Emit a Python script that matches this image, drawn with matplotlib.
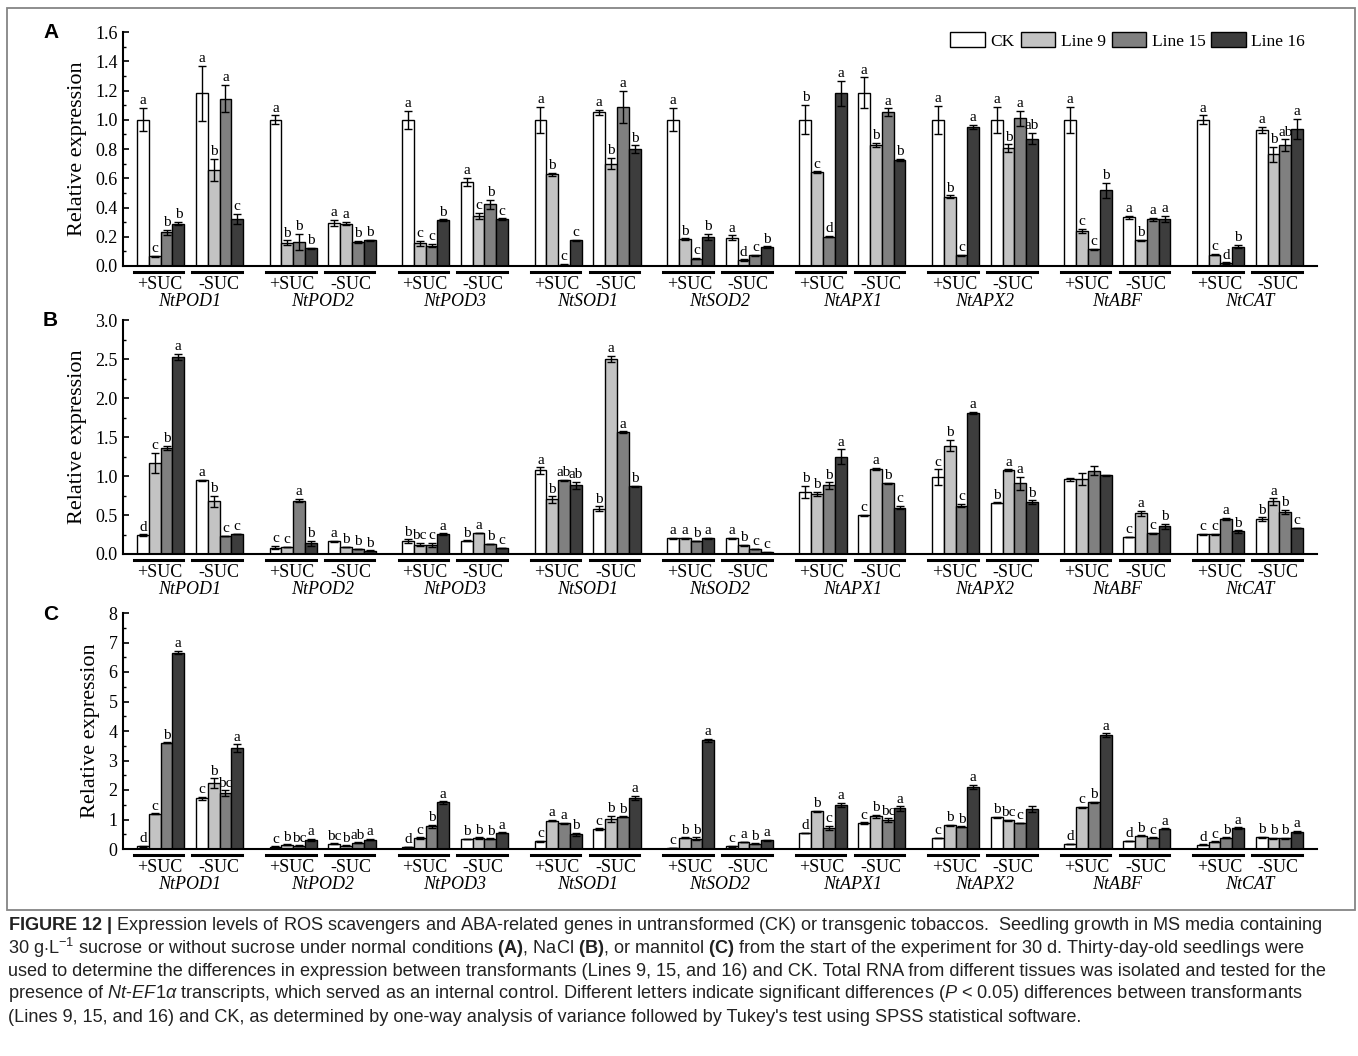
import numpy as np
import matplotlib
matplotlib.use('Agg')
import matplotlib.pyplot as plt
from matplotlib.patches import Patch, Rectangle
from matplotlib.transforms import blended_transform_factory, ScaledTranslation
from matplotlib.ticker import MultipleLocator, FormatStrFormatter

plt.rcParams['font.family'] = 'Liberation Serif'
plt.rcParams['mathtext.fontset'] = 'custom'
plt.rcParams['mathtext.rm'] = 'Liberation Sans'
plt.rcParams['mathtext.it'] = 'Liberation Sans:italic'
plt.rcParams['mathtext.bf'] = 'Liberation Sans:bold'

# гены и условия
genes = ['NtPOD1', 'NtPOD2', 'NtPOD3', 'NtSOD1', 'NtSOD2', 'NtAPX1', 'NtAPX2', 'NtABF', 'NtCAT']
conds = ['+SUC', '-SUC']
lines = ['CK', 'Line 9', 'Line 15', 'Line 16']
colors = ['white', '#c3c3c3', '#808080', '#3d3d3d']

# Панель A: строки = ген x условие, столбцы = CK, Line 9, Line 15, Line 16
a_mean = [[1.00, 0.066, 0.23, 0.29], [1.18, 0.656, 1.145, 0.32],
          [1.00, 0.16, 0.165, 0.12], [0.295, 0.29, 0.165, 0.175],
          [1.00, 0.155, 0.14, 0.315], [0.574, 0.343, 0.423, 0.32],
          [1.00, 0.628, 0.01, 0.176], [1.05, 0.70, 1.09, 0.80],
          [1.00, 0.185, 0.05, 0.20], [0.194, 0.04, 0.073, 0.13],
          [1.00, 0.642, 0.20, 1.18], [1.184, 0.827, 1.054, 0.725],
          [1.00, 0.473, 0.073, 0.95], [1.00, 0.807, 1.01, 0.871],
          [1.00, 0.238, 0.114, 0.517], [0.334, 0.176, 0.318, 0.322],
          [1.00, 0.078, 0.02, 0.133], [0.93, 0.763, 0.825, 0.935]]
a_err = [[0.08, 0.005, 0.015, 0.01], [0.19, 0.077, 0.095, 0.035],
         [0.03, 0.015, 0.055, 0.005], [0.02, 0.01, 0.005, 0.005],
         [0.06, 0.015, 0.01, 0.005], [0.03, 0.02, 0.03, 0.005],
         [0.09, 0.01, 0.005, 0.005], [0.02, 0.04, 0.11, 0.025],
         [0.08, 0.005, 0.005, 0.02], [0.015, 0.005, 0.005, 0.005],
         [0.10, 0.005, 0.005, 0.085], [0.105, 0.015, 0.025, 0.01],
         [0.095, 0.01, 0.005, 0.015], [0.09, 0.025, 0.05, 0.04],
         [0.09, 0.015, 0.005, 0.05], [0.01, 0.005, 0.01, 0.02],
         [0.03, 0.005, 0.005, 0.01], [0.02, 0.05, 0.04, 0.07]]
a_let = [['a', 'c', 'b', 'b'], ['a', 'b', 'a', 'c'],
         ['a', 'b', 'b', 'b'], ['a', 'a', 'b', 'b'],
         ['a', 'c', 'c', 'b'], ['a', 'c', 'b', 'c'],
         ['a', 'b', 'c', 'c'], ['a', 'b', 'a', 'b'],
         ['a', 'b', 'c', 'b'], ['a', 'd', 'c', 'b'],
         ['b', 'c', 'd', 'a'], ['a', 'b', 'a', 'b'],
         ['a', 'b', 'c', 'a'], ['a', 'b', 'a', 'ab'],
         ['a', 'c', 'c', 'b'], ['a', 'b', 'a', 'a'],
         ['a', 'c', 'd', 'b'], ['a', 'b', 'ab', 'a']]

# Панель B
b_mean = [[0.243, 1.165, 1.357, 2.527], [0.943, 0.674, 0.23, 0.256],
          [0.081, 0.09, 0.683, 0.137], [0.162, 0.09, 0.064, 0.043],
          [0.166, 0.12, 0.115, 0.256], [0.171, 0.269, 0.128, 0.077],
          [1.071, 0.70, 0.943, 0.879], [0.58, 2.497, 1.562, 0.87],
          [0.20, 0.20, 0.166, 0.20], [0.20, 0.111, 0.064, 0.021],
          [0.794, 0.768, 0.879, 1.25], [0.495, 1.093, 0.905, 0.593],
          [0.986, 1.391, 0.619, 1.805], [0.657, 1.076, 0.905, 0.666],
          [0.96, 0.96, 1.067, 1.007], [0.218, 0.521, 0.265, 0.354],
          [0.252, 0.252, 0.448, 0.29], [0.448, 0.674, 0.538, 0.333]]
b_err = [[0.01, 0.13, 0.03, 0.04], [0.01, 0.07, 0.005, 0.005],
         [0.02, 0.005, 0.02, 0.03], [0.005, 0.005, 0.005, 0.005],
         [0.02, 0.02, 0.03, 0.01], [0.005, 0.005, 0.005, 0.005],
         [0.04, 0.04, 0.01, 0.05], [0.03, 0.04, 0.01, 0.005],
         [0.005, 0.005, 0.005, 0.01], [0.005, 0.005, 0.005, 0.005],
         [0.08, 0.03, 0.04, 0.09], [0.01, 0.01, 0.01, 0.02],
         [0.10, 0.07, 0.02, 0.015], [0.005, 0.01, 0.08, 0.02],
         [0.02, 0.08, 0.06, 0.01], [0.005, 0.035, 0.005, 0.03],
         [0.01, 0.01, 0.015, 0.015], [0.02, 0.04, 0.025, 0.005]]
b_let = [['d', 'c', 'b', 'a'], ['a', 'b', 'c', 'c'],
         ['c', 'c', 'a', 'b'], ['a', 'b', 'b', 'b'],
         ['b', 'bc', 'c', 'a'], ['b', 'a', 'b', 'c'],
         ['a', 'b', 'ab', 'ab'], ['b', 'a', 'a', 'b'],
         ['a', 'a', 'b', 'a'], ['a', 'b', 'c', 'c'],
         ['b', 'b', 'b', 'a'], ['c', 'a', 'b', 'c'],
         ['c', 'b', 'c', 'a'], ['b', 'a', 'a', 'b'],
         ['', '', '', ''], ['c', 'a', 'c', 'b'],
         ['c', 'c', 'a', 'b'], ['b', 'a', 'b', 'c']]

# Панель C
c_mean = [[0.09, 1.194, 3.606, 6.66], [1.724, 2.23, 1.893, 3.414],
          [0.08, 0.146, 0.113, 0.315], [0.18, 0.113, 0.214, 0.315],
          [0.068, 0.372, 0.766, 1.577], [0.338, 0.372, 0.35, 0.552],
          [0.26, 0.958, 0.868, 0.507], [0.676, 1.025, 1.093, 1.735],
          [0.034, 0.383, 0.35, 3.685], [0.09, 0.237, 0.18, 0.293],
          [0.54, 1.273, 0.71, 1.487], [0.879, 1.104, 0.98, 1.375],
          [0.372, 0.80, 0.755, 2.096], [1.07, 0.969, 0.879, 1.352],
          [0.169, 1.408, 1.577, 3.865], [0.27, 0.45, 0.383, 0.687],
          [0.146, 0.248, 0.383, 0.71], [0.394, 0.36, 0.36, 0.586]]
c_err = [[0.01, 0.01, 0.01, 0.06], [0.05, 0.17, 0.10, 0.13],
         [0.01, 0.01, 0.01, 0.04], [0.01, 0.01, 0.01, 0.02],
         [0.01, 0.02, 0.05, 0.04], [0.01, 0.02, 0.01, 0.01],
         [0.01, 0.02, 0.02, 0.05], [0.02, 0.10, 0.01, 0.07],
         [0.01, 0.01, 0.05, 0.06], [0.01, 0.01, 0.01, 0.01],
         [0.01, 0.01, 0.08, 0.08], [0.02, 0.06, 0.06, 0.07],
         [0.01, 0.02, 0.01, 0.07], [0.01, 0.02, 0.01, 0.10],
         [0.01, 0.01, 0.03, 0.06], [0.01, 0.01, 0.01, 0.01],
         [0.01, 0.01, 0.01, 0.02], [0.01, 0.01, 0.01, 0.04]]
c_let = [['d', 'c', 'b', 'a'], ['c', 'b', 'bc', 'a'],
         ['c', 'b', 'bc', 'a'], ['bc', 'b', 'ab', 'a'],
         ['d', 'c', 'b', 'a'], ['b', 'b', 'b', 'a'],
         ['c', 'a', 'a', 'b'], ['c', 'b', 'b', 'a'],
         ['c', 'b', 'b', 'a'], ['c', 'a', 'b', 'a'],
         ['d', 'b', 'c', 'a'], ['c', 'b', 'bc', 'a'],
         ['c', 'b', 'b', 'a'], ['b', 'bc', 'c', ''],
         ['d', 'c', 'b', 'a'], ['d', 'b', 'c', 'a'],
         ['d', 'c', 'b', 'a'], ['b', 'b', 'b', 'a']]

panels = [('A', a_mean, a_err, a_let, 1.6, 0.2, 0.1, '%.1f'),
          ('B', b_mean, b_err, b_let, 3.0, 0.5, 0.25, '%.1f'),
          ('C', c_mean, c_err, c_let, 8, 1, 0.5, '%d')]

# положения осей в пикселях (верх, низ)
W, H = 1358, 1056
ax_px = [(32, 266), (320, 554), (613, 849)]
left_px, right_px = 123, 1317

period = 11.25  # шаг между генами в ширинах столбика

fig = plt.figure(figsize=(W / 100, H / 100), dpi=100)

for (name, mean, err, let, ymax, major, minor, fmt), (top, bot) in zip(panels, ax_px):
    ax = fig.add_axes([left_px / W, 1 - bot / H, (right_px - left_px) / W, (bot - top) / H])
    mean = np.array(mean)
    err = np.array(err)
    for k in range(4):
        xs = []
        for g in range(len(genes)):
            for c in range(2):
                xs.append(g * period + c * 5 + k)
        xs = np.array(xs)
        ax.bar(xs, mean[:, k], width=1.0, align='edge', color=colors[k],
               edgecolor='black', linewidth=1.0, zorder=2)
        ax.errorbar(xs + 0.5, mean[:, k], yerr=err[:, k], fmt='none', ecolor='black',
                    elinewidth=1.0, capsize=3, capthick=1.0, zorder=3)
        for i, x in enumerate(xs):
            if let[i][k]:
                ax.annotate(let[i][k], (x + 0.5, mean[i, k] + err[i, k]), xytext=(0, 0.5),
                            textcoords='offset points', ha='center', va='bottom', fontsize=11)

    ax.set_xlim(-1.2, 100.2)
    ax.set_ylim(0, ymax)
    ax.yaxis.set_major_locator(MultipleLocator(major))
    ax.yaxis.set_minor_locator(MultipleLocator(minor))
    ax.yaxis.set_major_formatter(FormatStrFormatter(fmt))
    ax.tick_params(axis='y', which='major', direction='in', length=4, width=1.2, labelsize=13, pad=4)
    ax.tick_params(axis='y', which='minor', direction='in', length=2.5, width=1.0)
    ax.set_xticks([])
    ax.spines['top'].set_visible(False)
    ax.spines['right'].set_visible(False)
    ax.spines['left'].set_linewidth(1.5)
    ax.spines['bottom'].set_linewidth(1.5)
    ax.set_ylabel('Relative expression', fontsize=16, labelpad=6)

    # подписи условий и генов под осью
    trans = blended_transform_factory(ax.transData, ax.transAxes)
    line_trans = trans + ScaledTranslation(0, -6 / 100, fig.dpi_scale_trans)
    for g, gene in enumerate(genes):
        for c, cond in enumerate(conds):
            x0 = g * period + c * 5
            ax.plot([x0 - 0.3, x0 + 3.9], [0, 0], transform=line_trans,
                    color='black', lw=2.2, clip_on=False)
            ax.annotate(cond, (x0 + 1.9, 0), xycoords=trans, xytext=(0, -7),
                        textcoords='offset points', ha='center', va='top', fontsize=13)
        ax.annotate(gene, (g * period + 4.5, 0), xycoords=trans, xytext=(0, -19.5),
                    textcoords='offset points', ha='center', va='top', fontsize=13, style='italic')

    fig.text(43 / W, 1 - (top + 1) / H, name, family='Liberation Sans', weight='bold',
             fontsize=15, ha='left', va='center')

    if name == 'A':
        handles = [Patch(facecolor=colors[k], edgecolor='black', linewidth=1.0) for k in range(4)]
        ax.legend(handles, lines, loc='center right', bbox_to_anchor=(0.99, 0.962), ncol=4,
                  frameon=False, fontsize=12.5, handlelength=2.0, handleheight=0.95,
                  handletextpad=0.3, columnspacing=0.35, borderpad=0, borderaxespad=0)

# рамка вокруг рисунка
fig.patches.append(Rectangle((7 / W, 1 - 910 / H), 1348 / W, 902 / H, transform=fig.transFigure,
                             fill=False, edgecolor='#858585', linewidth=1.3))

# подпись
caption = [
    r'$\mathbf{FIGURE\ 12\ |}$ Expression levels of ROS scavengers and ABA-related genes in untransformed (CK) or transgenic tobaccos.  Seedling growth in MS media containing',
    r'30 g$\cdot$L$^{-1}$ sucrose or without sucrose under normal conditions $\mathbf{(A)}$, NaCl $\mathbf{(B)}$, or mannitol $\mathbf{(C)}$ from the start of the experiment for 30 d. Thirty-day-old seedlings were',
    r'used to determine the differences in expression between transformants (Lines 9, 15, and 16) and CK. Total RNA from different tissues was isolated and tested for the',
    r'presence of $\mathit{Nt}$-$\mathit{EF1\alpha}$ transcripts, which served as an internal control. Different letters indicate significant differences ($\mathit{P}$ < 0.05) differences between transformants',
    r"(Lines 9, 15, and 16) and CK, as determined by one-way analysis of variance followed by Tukey's test using SPSS statistical software.",
]
cap_y = [925, 948, 971, 994, 1017]
for txt, y in zip(caption, cap_y):
    fig.text(8 / W, 1 - y / H, txt, family='Liberation Sans', fontsize=13.1, ha='left', va='center',
             color='#222222')

fig.savefig('out.png', dpi=100)
